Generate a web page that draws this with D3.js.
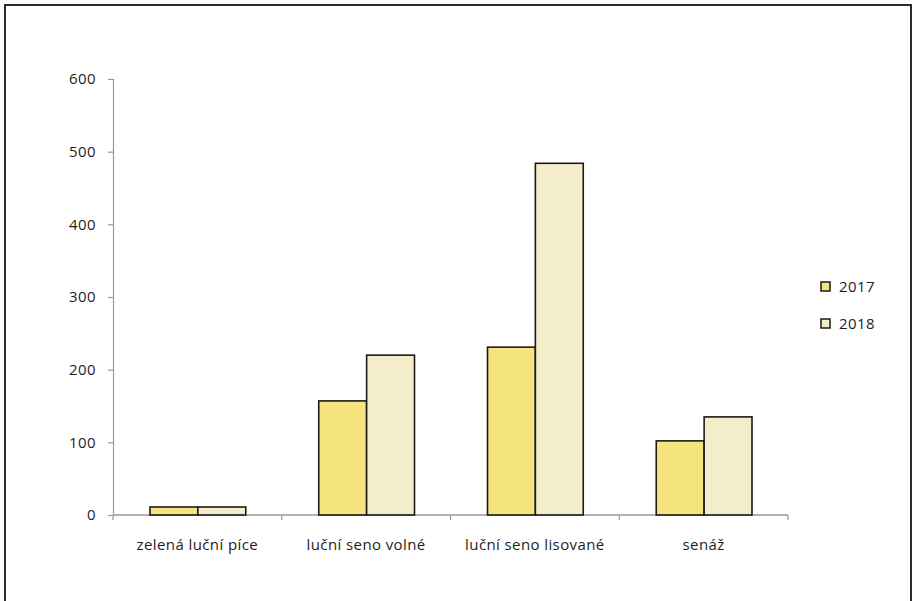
<!DOCTYPE html>
<html>
<head>
<meta charset="utf-8">
<script src="https://cdn.jsdelivr.net/npm/d3@7"></script>
<style>
  body { margin: 0; background: #fff; }
  text { font-family: "Open Sans", "Noto Sans", sans-serif; fill: #1e1e1e; letter-spacing: 0.4px; }
</style>
</head>
<body>
<svg width="917" height="601"></svg>
<script>
// categories and series
var categories = ["zelená luční píce", "luční seno volné", "luční seno lisované", "senáž"];
var years = ["2017", "2018"];
var values2017 = [11, 157, 231, 102];
var values2018 = [11, 220, 484, 135];
var yTicks = [0, 100, 200, 300, 400, 500, 600];

var colors = { "2017": "#f5e37b", "2018": "#f3eec9" };

var svg = d3.select("svg");

// outer frame (bottom edge falls outside the picture)
svg.append("rect")
  .attr("x", 5).attr("y", 5)
  .attr("width", 906).attr("height", 620)
  .attr("fill", "none")
  .attr("stroke", "#2a2a2a")
  .attr("stroke-width", 2);

var margin = { top: 79, left: 113 },
  width = 675,
  height = 436;

var g = svg.append("g")
  .attr("transform", "translate(" + margin.left + "," + margin.top + ")");

var x0 = d3.scaleBand().domain(categories).range([0, width]);
var x1 = d3.scaleBand().domain(years).range([37, x0.bandwidth() - 36]);
var y = d3.scaleLinear().domain([0, 600]).range([height, 0]);

var rows = categories.map(function (c, i) {
  return { cat: c, vals: [{ year: "2017", v: values2017[i] }, { year: "2018", v: values2018[i] }] };
});

// y axis
var yAxis = g.append("g")
  .call(d3.axisLeft(y).tickValues(yTicks).tickSize(5).tickPadding(12).tickFormat(d3.format("d")));
yAxis.select(".domain").attr("stroke", "#999").attr("stroke-width", 1.2);
yAxis.selectAll(".tick line").attr("stroke", "#999").attr("stroke-width", 1.2);
yAxis.selectAll(".tick text").style("font-size", "15px").attr("fill", "#1e1e1e");

// x axis with ticks between categories
var xAxis = g.append("g").attr("transform", "translate(0," + height + ")");
xAxis.append("line")
  .attr("x1", 0).attr("x2", width)
  .attr("stroke", "#999").attr("stroke-width", 1.5);
xAxis.selectAll(".sep")
  .data(categories.concat(["end"]))
  .enter().append("line")
  .attr("x1", function (d, i) { return i * x0.bandwidth(); })
  .attr("x2", function (d, i) { return i * x0.bandwidth(); })
  .attr("y1", 0).attr("y2", 5)
  .attr("stroke", "#999").attr("stroke-width", 1.2);
xAxis.selectAll(".lbl")
  .data(categories)
  .enter().append("text")
  .attr("x", function (d) { return x0(d) + x0.bandwidth() / 2; })
  .attr("y", 35)
  .attr("text-anchor", "middle")
  .style("font-size", "15px")
  .text(function (d) { return d; });

// bars
g.selectAll(".grp")
  .data(rows)
  .enter().append("g")
  .attr("transform", function (d) { return "translate(" + x0(d.cat) + ",0)"; })
  .selectAll("rect")
  .data(function (d) { return d.vals; })
  .enter().append("rect")
  .attr("x", function (d) { return x1(d.year); })
  .attr("y", function (d) { return y(d.v); })
  .attr("width", x1.bandwidth())
  .attr("height", function (d) { return height - y(d.v); })
  .attr("fill", function (d) { return colors[d.year]; })
  .attr("stroke", "#1a1a1a")
  .attr("stroke-width", 1.6);

// legend
var legend = svg.append("g").attr("transform", "translate(821,282)");
var li = legend.selectAll("g")
  .data(years)
  .enter().append("g")
  .attr("transform", function (d, i) { return "translate(0," + i * 37 + ")"; });
li.append("rect")
  .attr("width", 9).attr("height", 9)
  .attr("fill", function (d) { return colors[d]; })
  .attr("stroke", "#1a1a1a").attr("stroke-width", 1.5);
li.append("text")
  .attr("x", 18).attr("y", 10)
  .style("font-size", "15px")
  .text(function (d) { return d; });
</script>
</body>
</html>
